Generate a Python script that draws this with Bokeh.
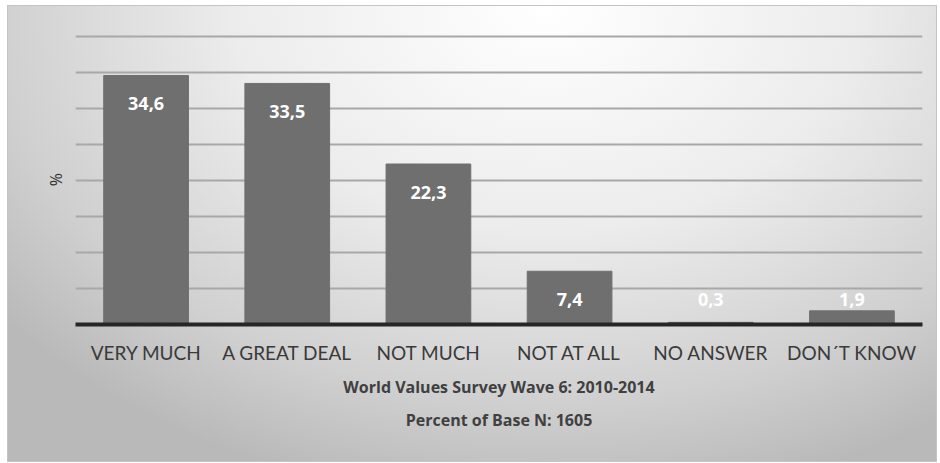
from bokeh.plotting import figure
from bokeh.models import ColumnDataSource, Title
from bokeh.core.properties import value
from bokeh.embed import file_html
from bokeh.resources import INLINE

categories = ["VERY MUCH", "A GREAT DEAL", "NOT MUCH", "NOT AT ALL", "NO ANSWER", "DON\u00b4T KNOW"]
percents = [34.6, 33.5, 22.3, 7.4, 0.3, 1.9]
title_lines = ["World Values Survey Wave 6: 2010-2014", "Percent of Base N: 1605"]
y_label = "%"
y_ticks = [0, 5, 10, 15, 20, 25, 30, 35, 40]

label_floor = 7.4
source = ColumnDataSource(dict(
    cat=categories,
    val=percents,
    txt=[f"{v:.1f}".replace(".", ",") for v in percents],
    ly=[max(v, label_floor) for v in percents],
))

p = figure(x_range=categories, y_range=(0, 40.3), width=930, height=457,
           output_backend="svg", toolbar_location=None,
           min_border_left=67, min_border_right=16, min_border_top=28, min_border_bottom=139)
p.margin = (5, 3, 0, 7)

p.background_fill_alpha = 0
p.border_fill_alpha = 0
p.outline_line_color = None
p.styles = {
    "background": "radial-gradient(ellipse 75% 110% at 58% 0%, #ffffff 0%, #ececec 45%, #cfcfcf 80%, #b9b9b9 100%)",
    "border": "1px solid #c4c4c4",
    "box-sizing": "border-box",
}

p.vbar(x="cat", top="val", width=0.6, source=source,
       fill_color="#6f6f6f", line_color="#6f6f6f", line_width=1)

p.text(x="cat", y="ly", text="txt", source=source, y_offset=28,
       text_align="center", text_baseline="middle",
       text_font=value("Open Sans"), text_font_style="bold",
       text_font_size="18px", text_color="white")

p.ygrid.grid_line_color = "#a8a8a8"
p.ygrid.grid_line_width = 2
p.xgrid.grid_line_color = None
p.yaxis.ticker = y_ticks
p.yaxis.major_label_overrides = {t: "" for t in y_ticks}

p.yaxis.axis_line_color = None
p.yaxis.major_tick_line_color = None
p.yaxis.minor_tick_line_color = None
p.yaxis.major_label_standoff = 0
p.yaxis.axis_label = y_label
p.yaxis.axis_label_text_font = "Open Sans"
p.yaxis.axis_label_text_font_style = "normal"
p.yaxis.axis_label_text_font_size = "16px"
p.yaxis.axis_label_text_color = "#303030"
p.yaxis.axis_label_standoff = 3

p.xaxis.axis_line_color = "#262626"
p.xaxis.axis_line_width = 4
p.xaxis.major_tick_line_color = None
p.xaxis.minor_tick_line_color = None
p.xaxis.major_label_standoff = 10
p.xaxis.major_label_text_font = "Lato"
p.xaxis.major_label_text_font_size = "19px"
p.xaxis.major_label_text_color = "#3a3a3a"

for line, so in zip(title_lines, [15, 2]):
    p.add_layout(Title(text=line, align="center", text_font="Open Sans",
                       text_font_style="bold", text_font_size="16px",
                       text_color="#404040", standoff=so), "below")

open("out.html", "w").write(file_html(p, INLINE))
